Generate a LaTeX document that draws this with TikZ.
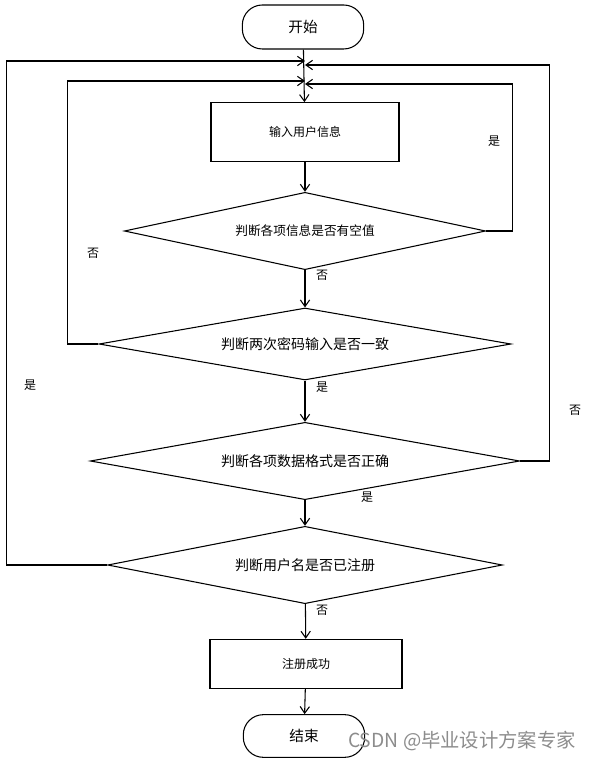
\documentclass[tikz,border=0pt]{standalone}
\usepackage{fontspec}
\setmainfont{Noto Sans CJK SC}
\usetikzlibrary{arrows.meta,positioning,calc,shapes.geometric}
\tikzset{
  flow/.style={draw=black, line width=0.8pt, -{Straight Barb[length=5pt,width=7pt]}},
  term/.style={draw=black, line width=0.8pt, rectangle, rounded corners=15pt, minimum width=91pt, minimum height=33pt, font=\fontsize{11}{11}\selectfont},
  proc/.style={draw=black, line width=0.8pt, rectangle, minimum width=141pt, minimum height=44pt, font=\fontsize{9}{9}\selectfont},
  test/.style={draw=black, line width=0.8pt, diamond, aspect=5, inner sep=0pt, font=\fontsize{10.5}{10.5}\selectfont},
  lbl/.style={font=\fontsize{9}{9}\selectfont, inner sep=0pt}
}
\begin{document}
\begin{tikzpicture}[x=0.75pt, y=-0.75pt]
  \useasboundingbox (0,0) rectangle (591,762);

  \node (start) [term] at (303,27) {开始};
  \node (input) [proc] at (305,132) {输入用户信息};
  \node (empty) [test, minimum width=271pt, minimum height=58pt, font=\fontsize{9.5}{9.5}\selectfont] at (305,231) {判断各项信息是否有空值};
  \node (same) [test, minimum width=309pt, minimum height=54pt] at (305,344) {判断两次密码输入是否一致};
  \node (format) [test, minimum width=322pt, minimum height=58pt] at (305,461) {判断各项数据格式是否正确};
  \node (exist) [test, minimum width=296pt, minimum height=58pt] at (305,565) {判断用户名是否已注册};
  \node (ok) [proc, minimum width=144pt, minimum height=37pt] at (306,664) {注册成功};
  \node (stop) [term, minimum height=32pt] at (304,736) {结束};

  % loop ends on the main line
  \coordinate (outL) at (305,61);
  \coordinate (outR) at (305,65);
  \coordinate (inL) at (305,81);
  \coordinate (inR) at (305,84);

  \draw [flow] (start) -- (input);
  \draw [flow] (input) -- (empty);
  \draw [flow] (empty) -- (same);
  \draw [flow] (same) -- (format);
  \draw [flow] (format) -- (exist);
  \draw [flow] (exist) -- (ok);
  \draw [flow] (ok) -- (stop);

  \draw [flow] (empty.east) -- ++(26,0) |- (inR);
  \draw [flow] (same.west) -- ++(-31,0) |- (inL);
  \draw [flow] (format.east) -- ++(29,0) |- (outR);
  \draw [flow] (exist.west) -- ++(-101,0) |- (outL);

  \node (n1) [lbl] at (322,275) {否};
  \node (y2) [lbl] at (322,387) {是};
  \node (y3) [lbl] at (367,497) {是};
  \node (n4) [lbl] at (322,610) {否};
  \node (n2) [lbl] at (93,253) {否};
  \node (y1) [lbl] at (494,141) {是};
  \node (y4) [lbl] at (30,385) {是};
  \node (n3) [lbl] at (575,410) {否};

  \node (mark) [font=\fontsize{14.5}{14.5}\selectfont, text=black!45] at (462,741) {CSDN @毕业设计方案专家};
\end{tikzpicture}
\end{document}
